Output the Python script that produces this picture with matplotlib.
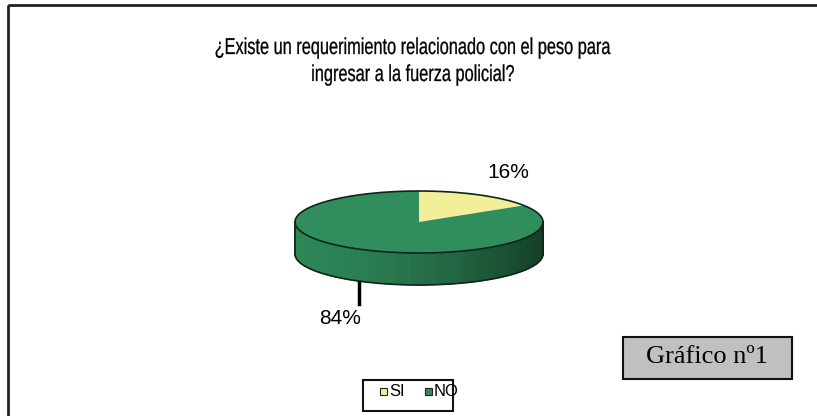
import numpy as np
import matplotlib
matplotlib.use("Agg")
import matplotlib.pyplot as plt
from matplotlib.patches import Polygon, Rectangle, PathPatch
from matplotlib.textpath import TextPath
from matplotlib.font_manager import FontProperties
from matplotlib.transforms import Affine2D
from matplotlib.colors import to_rgb

# survey answers
labels = ["SI", "NO"]
values = [16, 84]
colors = ["#F2EE9A", "#2F8E5C"]

title_lines = ["¿Existe un requerimiento relacionado con el peso para",
               "ingresar a la fuerza policial?"]
caption = "Gráfico nº1"

fig = plt.figure(figsize=(8.17, 4.16), dpi=100)
ax = fig.add_axes([0, 0, 1, 1])
ax.set_xlim(0, 817)
ax.set_ylim(416, 0)
ax.axis("off")

# outer frame (runs off the right and bottom edges)
ax.add_patch(Rectangle((8, 5), 830, 430, fill=False, lw=2, ec="#222222"))

# title in a condensed sans: glyph outlines squeezed horizontally
sans = FontProperties(family="Liberation Sans")
squeeze = 0.71
for line, base in zip(title_lines, [54, 81]):
    tp = TextPath((0, 0), line, size=23, prop=sans)
    w = tp.get_extents().width * squeeze
    tr = Affine2D().scale(squeeze, -1).translate(412 - w / 2, base) + ax.transData
    ax.add_patch(PathPatch(tp, fc="black", ec="black", lw=0.2, transform=tr))

# 3d pie geometry
cx, cy, rx, ry, depth = 419, 222, 124, 31, 32


def ell(t, dy=0):
    t = np.radians(t)
    return np.column_stack([cx + rx * np.cos(t), cy - ry * np.sin(t) + dy])


def shade(c, f):
    return tuple(min(1, v * f) for v in to_rgb(c))


total = sum(values)
starts, ends = [], []
a = 90.0
for v in values:
    starts.append(a)
    a -= 360.0 * v / total
    ends.append(a)

# side wall, front half only, drawn as thin strips to get the gradient
for s, e, c in zip(starts, ends, colors):
    for off in (0, -360, 360):
        a0, a1 = max(e + off, -180), min(s + off, 0)
        if a1 <= a0:
            continue
        ts = np.linspace(a0, a1, int((a1 - a0) * 2) + 2)
        for t0, t1 in zip(ts[:-1], ts[1:]):
            tm = np.radians((t0 + t1) / 2)
            f = 0.95 - 0.5 * ((np.cos(tm) + 1) / 2) ** 1.6
            top = ell(np.array([t0, t1]))
            bot = ell(np.array([t1, t0]), depth)
            ax.add_patch(Polygon(np.vstack([top, bot]), closed=True,
                                 fc=shade(c, f), ec=shade(c, f), lw=0.6))

# side outline
front = np.linspace(-180, 0, 200)
ax.plot(ell(front, depth)[:, 0], ell(front, depth)[:, 1], color="#10251a", lw=1.2)
for t in (-180, 0):
    p = ell(np.array([t]))[0]
    ax.plot([p[0], p[0]], [p[1], p[1] + depth], color="#10251a", lw=1.2)

# top face
for s, e, c in zip(starts, ends, colors):
    ts = np.linspace(s, e, 200)
    pts = np.vstack([[cx, cy], ell(ts)])
    ax.add_patch(Polygon(pts, closed=True, fc=c, ec="none"))
full = ell(np.linspace(0, 360, 400))
ax.plot(full[:, 0], full[:, 1], color="#10251a", lw=1.2)

# percentage labels
for i, v in enumerate(values):
    mid = (starts[i] + ends[i]) / 2
    p = ell(np.array([mid]))[0]
    if np.sin(np.radians(mid)) > 0:
        ax.text(p[0] + 30, p[1] - 22, f"{v}%", ha="center", va="center",
                fontsize=15, family="Liberation Sans")
    else:
        y0 = p[1] + depth + 1
        ax.plot([p[0], p[0]], [y0, y0 + 22], color="black", lw=2.5)
        ax.text(p[0] - 19, y0 + 36, f"{v}%", ha="center", va="center",
                fontsize=15, family="Liberation Sans")

# caption box
ax.add_patch(Rectangle((623, 337), 169, 42, fc="#C0C0C0", ec="#111111", lw=1.5))
ax.text(707, 357, caption, ha="center", va="center", fontsize=19,
        family="Liberation Serif")

# legend
ax.add_patch(Rectangle((363, 380), 90, 31, fc="white", ec="#111111", lw=1.5))
lx = 380
for lab, c in zip(labels, colors):
    ax.add_patch(Rectangle((lx, 388), 7, 7, fc=c, ec="#222222", lw=0.8))
    ax.text(lx + 9, 392, lab, ha="left", va="center", fontsize=12,
            family="Liberation Sans")
    lx += 45

fig.savefig("out.png", dpi=100)
